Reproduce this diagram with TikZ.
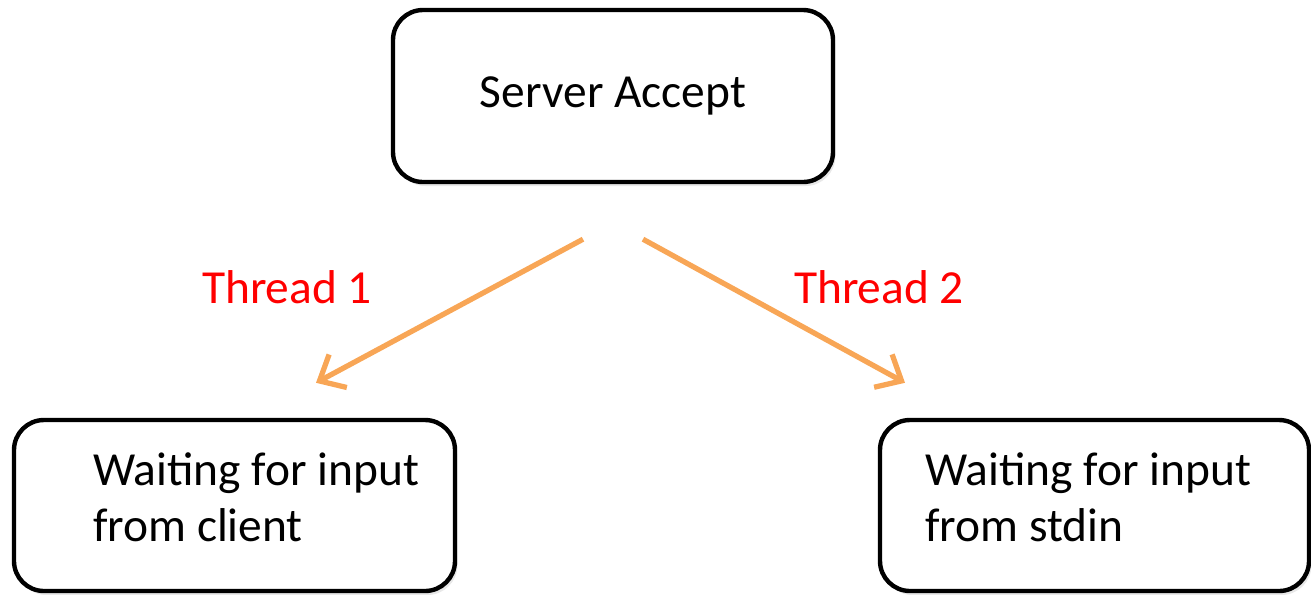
\documentclass[tikz,border=0pt]{standalone}
\usepackage{fontspec}
\setmainfont{Carlito}
\usepackage{xcolor}
\definecolor{arrorange}{RGB}{248,166,86}
\usepackage{tikz}
\usetikzlibrary{arrows.meta, positioning, calc, shadows}

\begin{document}
\begin{tikzpicture}[
    box/.style={draw=black, line width=2.5pt, rounded corners=0.6cm, fill=white,
                drop shadow={shadow xshift=0.05cm, shadow yshift=-0.08cm, opacity=0.18}},
    boxtext/.style={font=\fontsize{27}{32}\selectfont, align=left, inner sep=0pt},
    threadlabel/.style={font=\fontsize{27}{32}\selectfont, text=red},
    threadarrow/.style={arrorange, line width=3pt,
                        -{Straight Barb[length=0.42cm, width=0.75cm, line width=3pt]}}
]
\useasboundingbox (0,0) rectangle (26.22,-11.88);

% === Top box ===
\node[box, minimum width=8.8cm, minimum height=3.44cm,
      font=\fontsize{27}{32}\selectfont] (server) at (12.26,-1.92) {Server Accept};

% === Bottom boxes ===
\node[box, minimum width=8.82cm, minimum height=3.42cm] (client) at (4.69,-10.11) {};
\node[boxtext, anchor=west] (clienttext) at ([xshift=1.62cm, yshift=0.16cm]client.west)
     {Waiting for input\\from client};

\node[box, minimum width=8.58cm, minimum height=3.42cm] (stdin) at (21.89,-10.11) {};
\node[boxtext, anchor=west] (stdintext) at ([xshift=0.94cm, yshift=0.16cm]stdin.west)
     {Waiting for input\\from stdin};

% Arrow ends
\coordinate (t1start) at ($(server.south)+(-0.6,-1.1)$);
\coordinate (t2start) at ($(server.south)+(0.6,-1.1)$);
\coordinate (t1end) at ($(client.north)+(1.63,0.70)$);
\coordinate (t2end) at ($(stdin.north)+(-3.79,0.70)$);

% === Threads ===
\draw[threadarrow] (t1start) -- (t1end);
\draw[threadarrow] (t2start) -- (t2end);
\node[threadlabel] (thread1) at (5.74,-5.74) {Thread 1};
\node[threadlabel] (thread2) at (17.58,-5.74) {Thread 2};

\end{tikzpicture}
\end{document}
